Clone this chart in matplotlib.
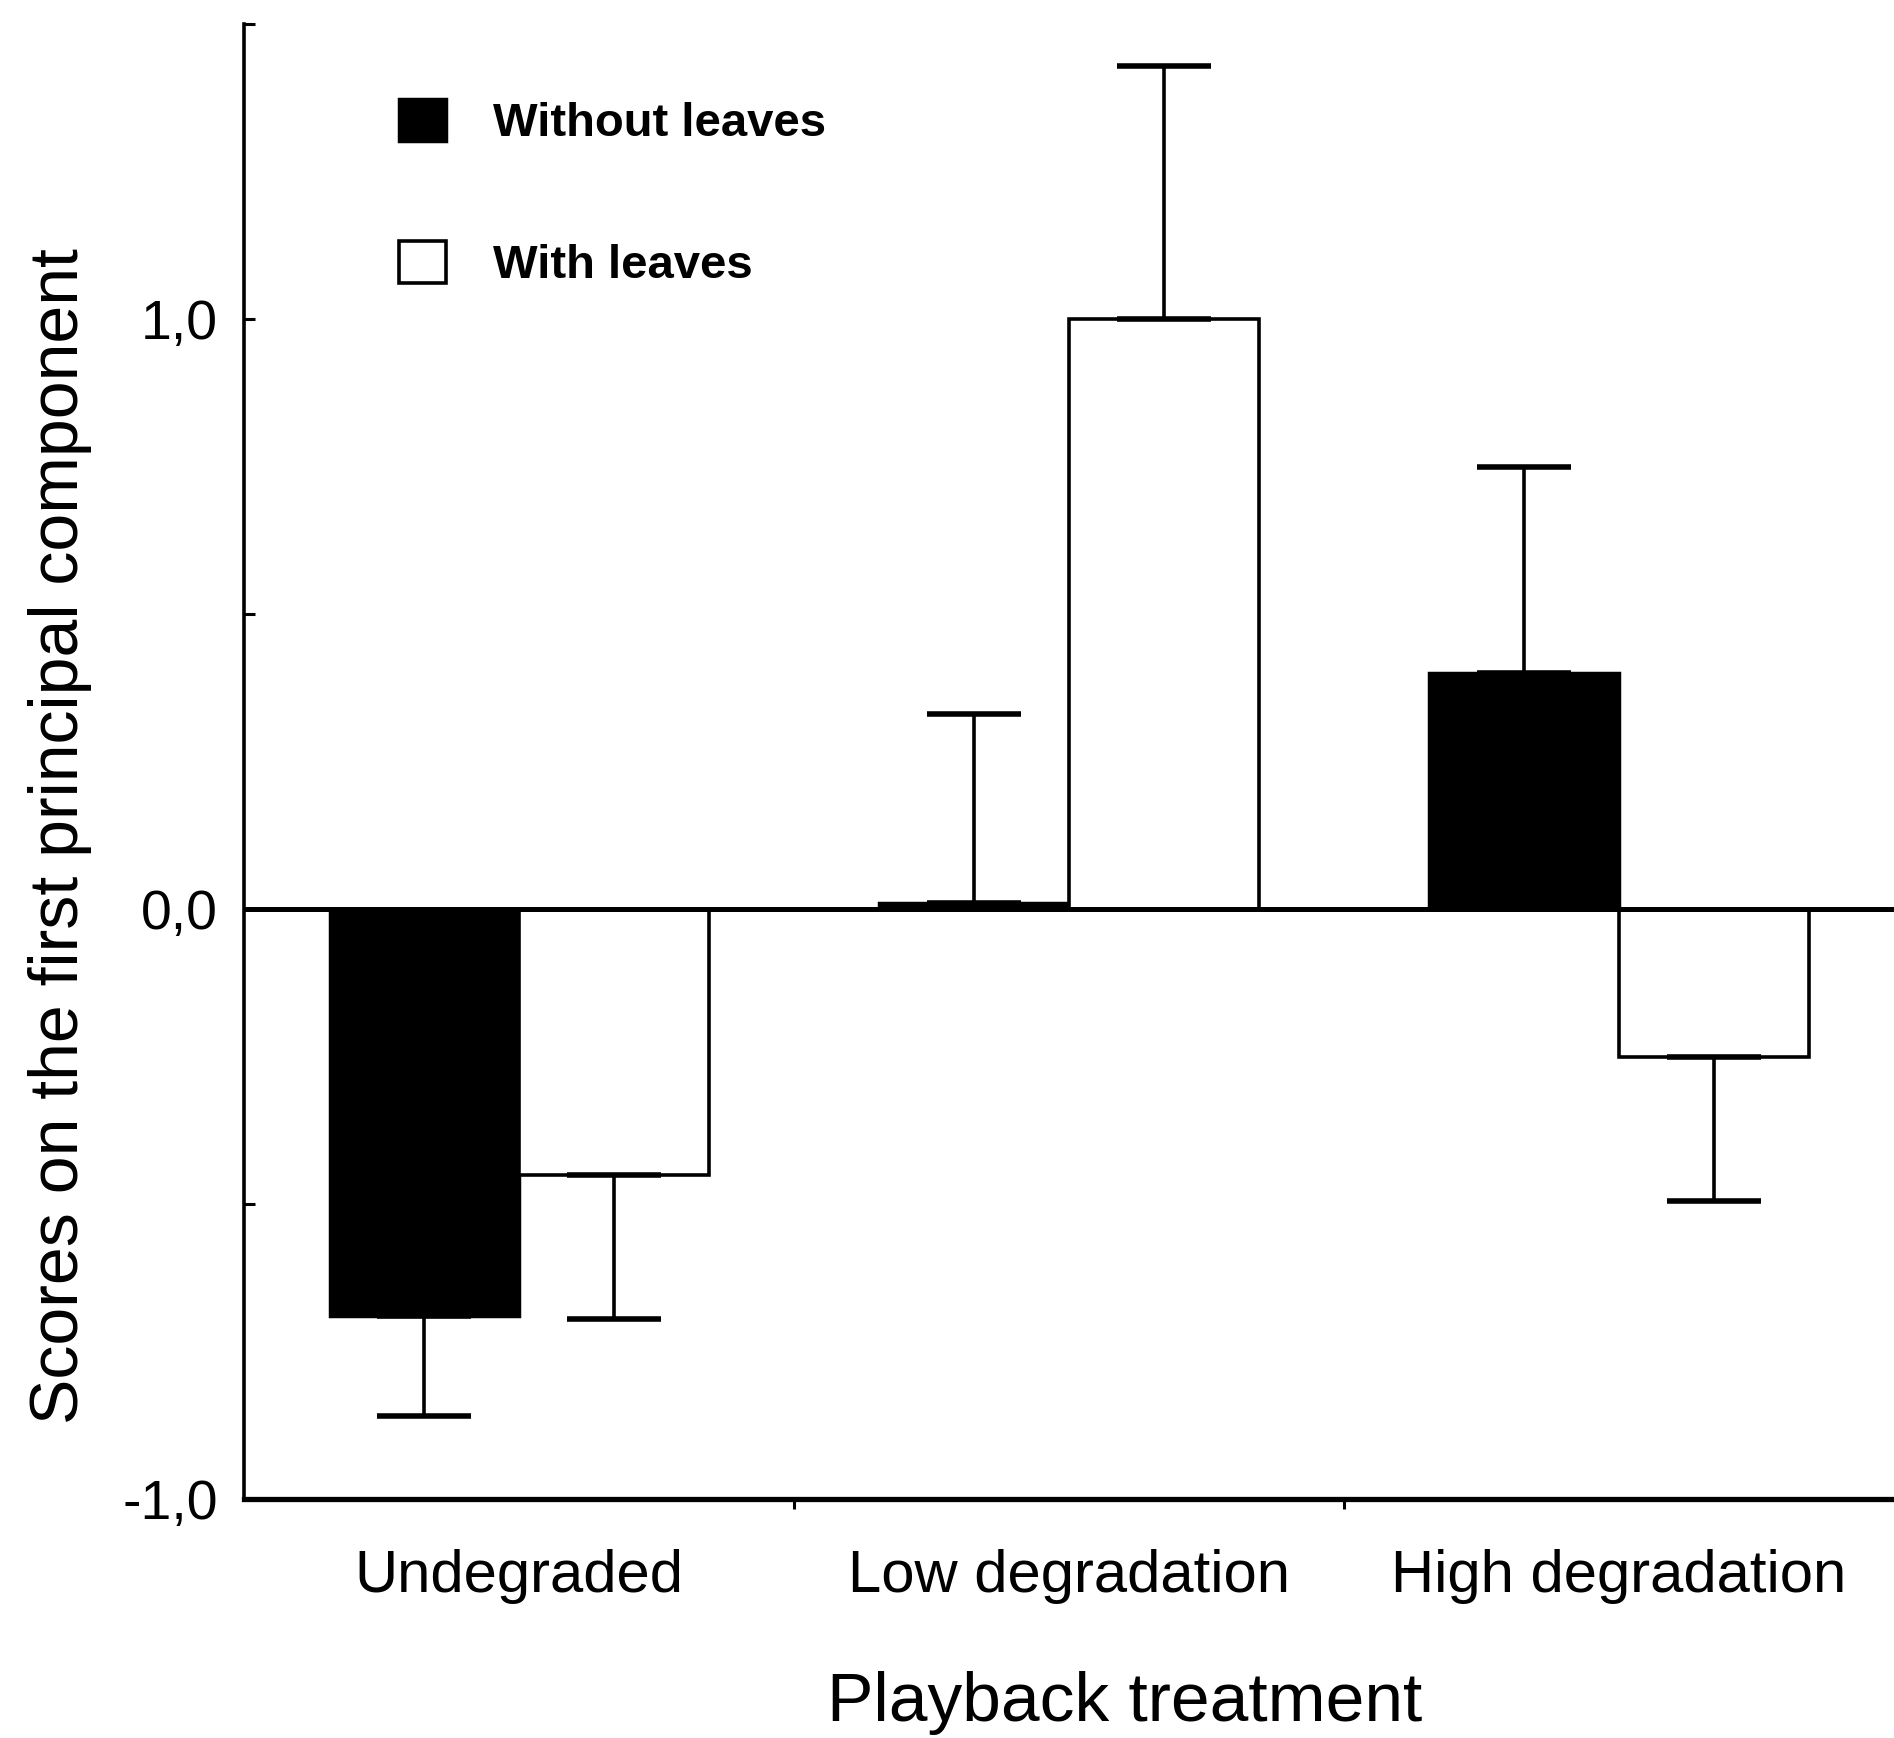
import matplotlib
matplotlib.use('Agg')
import matplotlib.pyplot as plt
import numpy as np

plt.rcParams['font.family'] = ['Liberation Sans', 'DejaVu Sans']

categories = ['Undegraded', 'Low degradation', 'High degradation']
without_leaves = [-0.69, 0.01, 0.40]
with_leaves = [-0.45, 1.00, -0.25]
err_without = [0.17, 0.32, 0.35]
err_with = [0.245, 0.43, 0.245]

x = np.arange(len(categories))
w = 0.345


def one_sided(vals, errs):
    # error bar only in the direction of the bar
    lower = [e if v < 0 else 0 for v, e in zip(vals, errs)]
    upper = [e if v >= 0 else 0 for v, e in zip(vals, errs)]
    return [lower, upper]


fig = plt.figure(figsize=(18.94, 17.38), dpi=100)
ax = fig.add_axes([0.129, 0.1375, 0.871, 0.8485])

ekw = dict(elinewidth=2.6, capthick=4, capsize=34, ecolor='black')
b1 = ax.bar(x - w / 2, without_leaves, w, color='black', edgecolor='black',
            linewidth=2.5, yerr=one_sided(without_leaves, err_without),
            error_kw=ekw, label='Without leaves', zorder=2)
b2 = ax.bar(x + w / 2, with_leaves, w, color='white', edgecolor='black',
            linewidth=2.6, yerr=one_sided(with_leaves, err_with),
            error_kw=ekw, label='With leaves', zorder=2)

ax.axhline(0, color='black', linewidth=3.6, zorder=3)

ax.set_xlim(-0.5, 2.5)
ax.set_ylim(-1.0, 1.5)

ax.spines['top'].set_visible(False)
ax.spines['right'].set_visible(False)
ax.spines['left'].set_linewidth(2.6)
ax.spines['bottom'].set_linewidth(3.8)

ax.set_yticks([-1, -0.5, 0, 0.5, 1, 1.5], ['-1,0', '', '0,0', '', '1,0', ''])
ax.tick_params(axis='y', direction='in', length=8, width=2.2, pad=19,
               labelsize=40)

ax.set_xticks(x, categories)
ax.tick_params(axis='x', which='major', length=0, pad=36, labelsize=43)
ax.set_xticks([0.5, 1.5], minor=True)
ax.tick_params(axis='x', which='minor', direction='out', length=7, width=2.2)

fig.text(60 / 1894, 0.519, 'Scores on the first principal component',
         rotation=90, ha='center', va='center', fontsize=49)
fig.text(0.594, 0.0098, 'Playback treatment', ha='center', va='baseline',
         fontsize=50)

ax.legend(handles=[b1, b2], loc='upper left', bbox_to_anchor=(399 / 1894, 0.943),
          bbox_transform=fig.transFigure, frameon=False,
          prop={'size': 34, 'weight': 'bold'},
          handlelength=1.0, handleheight=1.0, handletextpad=1.0,
          labelspacing=2.0, borderpad=0, borderaxespad=0)

fig.savefig('out.png', dpi=100)
